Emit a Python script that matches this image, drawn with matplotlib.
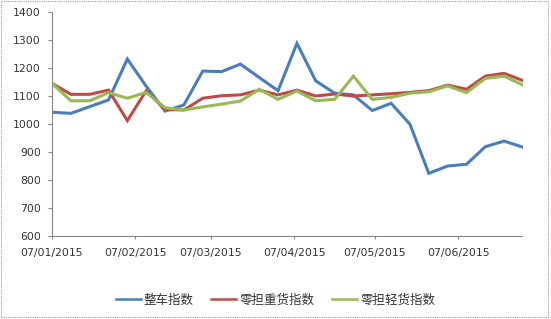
import matplotlib
matplotlib.use("Agg")
import matplotlib.pyplot as plt
import matplotlib.dates as mdates
from matplotlib.patches import Rectangle
import pandas as pd

# weekly index values, 07/01/2015 .. 01/07/2015
weeks = pd.date_range("2015-01-07", periods=26, freq="7D")
whole_truck = [1042, 1038, 1062, 1086, 1232, 1135, 1046, 1068, 1189, 1187,
               1214, 1166, 1119, 1288, 1154, 1110, 1104, 1048, 1074, 999,
               824, 850, 856, 919, 939, 917]
ltl_heavy = [1145, 1106, 1106, 1121, 1012, 1119, 1052, 1050, 1092, 1101,
             1104, 1121, 1104, 1121, 1100, 1107, 1100, 1104, 1108, 1113,
             1119, 1139, 1124, 1171, 1181, 1155]
ltl_light = [1145, 1083, 1083, 1112, 1092, 1113, 1058, 1050, 1061, 1071,
             1082, 1124, 1088, 1118, 1083, 1088, 1171, 1088, 1095, 1110,
             1115, 1136, 1112, 1163, 1171, 1139]
series_names = ["整车指数", "零担重货指数", "零担轻货指数"]
tick_dates = pd.date_range("2015-01-07", periods=6, freq=pd.DateOffset(months=1))

colors = ["#4A7EBB", "#BE4B48", "#98B954"]
axis_gray = "#868686"

fig = plt.figure(figsize=(5.51, 3.19), dpi=100)
ax = fig.add_axes([52 / 551, 1 - 236 / 319, 471 / 551, 224 / 319])

for vals, name, c in zip([whole_truck, ltl_heavy, ltl_light], series_names, colors):
    ax.plot(weeks, vals, color=c, lw=2.2, label=name, solid_joinstyle="miter")

ax.set_xlim(weeks[0], weeks[-1])
ax.set_ylim(600, 1400)
ax.set_yticks(range(600, 1401, 100))
ax.set_xticks(tick_dates)
ax.xaxis.set_major_formatter(mdates.DateFormatter("%d/%m/%Y"))

for side in ["top", "right"]:
    ax.spines[side].set_visible(False)
for side in ["left", "bottom"]:
    ax.spines[side].set_color(axis_gray)
    ax.spines[side].set_linewidth(0.8)
    ax.spines[side].set_linestyle((0, (1, 1)))

ax.tick_params(axis="y", length=3, width=0.8, color=axis_gray, pad=5,
               labelsize=7.8, labelcolor="#333333")
ax.tick_params(axis="x", length=2, width=0.8, color=axis_gray, pad=6.5,
               labelsize=7.8, labelcolor="#333333")

leg = fig.legend(loc="center", bbox_to_anchor=(0.5, 1 - 300 / 319), ncol=3,
                 frameon=False, handlelength=2.0, columnspacing=1.4,
                 handletextpad=0.25,
                 prop={"family": ["Noto Sans CJK SC", "DejaVu Sans"], "size": 9})
for line in leg.get_lines():
    line.set_linewidth(1.8)
for t in leg.get_texts():
    t.set_color("#333333")

# dotted outer frame of the chart
fig.patches.append(Rectangle((1 / 551, 2 / 319), 547 / 551, 316 / 319,
                             transform=fig.transFigure, fill=False,
                             edgecolor="#999999", lw=0.8, ls=(0, (1, 1))))

fig.savefig("out.png", dpi=100)
